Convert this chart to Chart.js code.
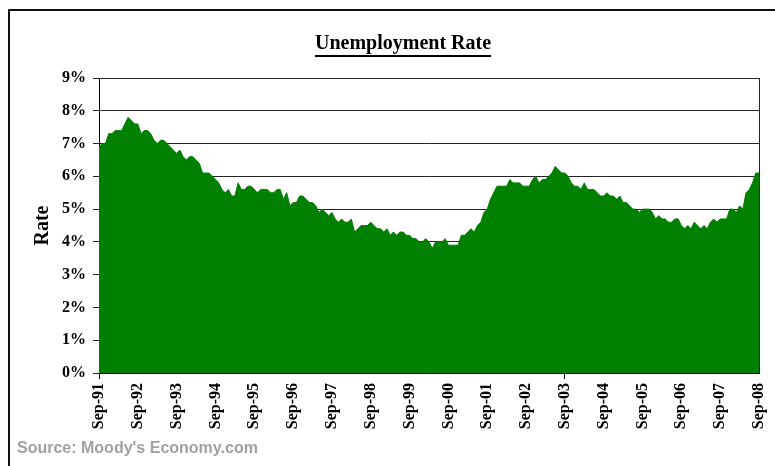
<!DOCTYPE html>
<html>
<head>
<meta charset="utf-8">
<title>Unemployment Rate</title>
<script src="https://cdn.jsdelivr.net/npm/chart.js@4.4.1/dist/chart.umd.min.js"></script>
<style>
    html, body { margin: 0; padding: 0; background: #fff; overflow: hidden; }
    #frame {
        position: absolute; left: 8px; top: 9px; width: 800px; height: 500px;
        border-top: 2px solid #111; border-left: 2px solid #111;
    }
    #chartTitle {
        position: absolute; left: 0; top: 32px; width: 806px; text-align: center;
        font: bold 20px 'Liberation Serif', 'Times New Roman', serif; line-height: 20px;
        text-decoration: underline; text-decoration-thickness: 2px; text-underline-offset: 6px;
    }
    #source {
        position: absolute; left: 17px; top: 440px;
        font: bold 16px 'Liberation Sans', Arial, sans-serif; line-height: 16px; color: #a0a0a0;
    }
    canvas { position: absolute; left: 0; top: 0; }
</style>
</head>
<body>
<div id="frame"></div>
<canvas id="rateChart" width="775" height="466"></canvas>
<div id="chartTitle">Unemployment Rate</div>
<div id="source">Source: Moody's Economy.com</div>

<script>
// Monthly series, Sep-91 through Sep-08
const years = ['91', '92', '93', '94', '95', '96', '97', '98', '99',
               '00', '01', '02', '03', '04', '05', '06', '07', '08'];
const months = ['Jan', 'Feb', 'Mar', 'Apr', 'May', 'Jun',
                'Jul', 'Aug', 'Sep', 'Oct', 'Nov', 'Dec'];

// Unemployment rate, percent (one row per calendar year)
const rate = [
    6.9, 7.0, 7.0, 7.3,                                         // 1991 Sep-Dec
    7.3, 7.4, 7.4, 7.4, 7.6, 7.8, 7.7, 7.6, 7.6, 7.3, 7.4, 7.4, // 1992
    7.3, 7.1, 7.0, 7.1, 7.1, 7.0, 6.9, 6.8, 6.7, 6.8, 6.6, 6.5, // 1993
    6.6, 6.6, 6.5, 6.4, 6.1, 6.1, 6.1, 6.0, 5.9, 5.8, 5.6, 5.5, // 1994
    5.6, 5.4, 5.4, 5.8, 5.6, 5.6, 5.7, 5.7, 5.6, 5.5, 5.6, 5.6, // 1995
    5.6, 5.5, 5.5, 5.6, 5.6, 5.3, 5.5, 5.1, 5.2, 5.2, 5.4, 5.4, // 1996
    5.3, 5.2, 5.2, 5.1, 4.9, 5.0, 4.9, 4.8, 4.9, 4.7, 4.6, 4.7, // 1997
    4.6, 4.6, 4.7, 4.3, 4.4, 4.5, 4.5, 4.5, 4.6, 4.5, 4.4, 4.4, // 1998
    4.3, 4.4, 4.2, 4.3, 4.2, 4.3, 4.3, 4.2, 4.2, 4.1, 4.1, 4.0, // 1999
    4.0, 4.1, 4.0, 3.8, 4.0, 4.0, 4.0, 4.1, 3.9, 3.9, 3.9, 3.9, // 2000
    4.2, 4.2, 4.3, 4.4, 4.3, 4.5, 4.6, 4.9, 5.0, 5.3, 5.5, 5.7, // 2001
    5.7, 5.7, 5.7, 5.9, 5.8, 5.8, 5.8, 5.7, 5.7, 5.7, 5.9, 6.0, // 2002
    5.8, 5.9, 5.9, 6.0, 6.1, 6.3, 6.2, 6.1, 6.1, 6.0, 5.8, 5.7, // 2003
    5.7, 5.6, 5.8, 5.6, 5.6, 5.6, 5.5, 5.4, 5.4, 5.5, 5.4, 5.4, // 2004
    5.3, 5.4, 5.2, 5.2, 5.1, 5.0, 5.0, 4.9, 5.0, 5.0, 5.0, 4.9, // 2005
    4.7, 4.8, 4.7, 4.7, 4.6, 4.6, 4.7, 4.7, 4.5, 4.4, 4.5, 4.4, // 2006
    4.6, 4.5, 4.4, 4.5, 4.4, 4.6, 4.7, 4.6, 4.7, 4.7, 4.7, 5.0, // 2007
    5.0, 4.9, 5.1, 5.0, 5.5, 5.6, 5.8, 6.1, 6.1                 // 2008 Jan-Sep
];

const yTicks = [0, 1, 2, 3, 4, 5, 6, 7, 8, 9];

// Build "Mon-YY" labels starting at Sep-91
const labels = [];
years.forEach((yy, yi) => {
    months.forEach((m, mi) => {
        if (yi === 0 && mi < 8) return;
        if (labels.length < rate.length) labels.push(m + '-' + yy);
    });
});

// Only September gets a label and a tick mark
const isSep = i => labels[i] && labels[i].startsWith('Sep');

const serif = 'Liberation Serif, Times New Roman, serif';

// Right-hand edge of the plot area
const plotFrame = {
    id: 'plotFrame',
    afterDatasetsDraw(chart) {
        const { ctx, chartArea } = chart;
        const x = Math.round(chartArea.right) + 0.5;
        ctx.save();
        ctx.strokeStyle = '#222';
        ctx.lineWidth = 1;
        ctx.beginPath();
        ctx.moveTo(x, chartArea.top);
        ctx.lineTo(x, chartArea.bottom);
        ctx.stroke();
        ctx.restore();
    }
};

document.addEventListener('DOMContentLoaded', function() {
    const ctx = document.getElementById('rateChart');

    new Chart(ctx, {
        type: 'line',
        data: {
            labels: labels,
            datasets: [{
                label: 'Rate',
                data: rate,
                fill: 'origin',
                backgroundColor: '#008000',
                borderColor: '#008000',
                borderWidth: 1,
                pointRadius: 0,
                tension: 0
            }]
        },
        options: {
            responsive: false,
            animation: false,
            layout: {
                padding: { left: 27, top: 78, right: 16, bottom: 0 }
            },
            plugins: {
                legend: { display: false },
                tooltip: { enabled: false }
            },
            scales: {
                x: {
                    offset: false,
                    border: { color: '#000', width: 1 },
                    grid: {
                        drawOnChartArea: false,
                        tickLength: 6,
                        color: c => isSep(c.index) ? '#000' : 'rgba(0,0,0,0)'
                    },
                    ticks: {
                        autoSkip: false,
                        minRotation: 90,
                        maxRotation: 90,
                        padding: 4,
                        color: '#000',
                        font: { family: serif, size: 16, weight: 'bold' },
                        callback: (v, i) => isSep(i) ? labels[i] : null
                    },
                    afterFit: s => {
                        s.height = 93;
                        s.paddingLeft = 0;
                        s.paddingRight = 0;
                    }
                },
                y: {
                    min: yTicks[0],
                    max: yTicks[yTicks.length - 1],
                    border: { color: '#000', width: 1 },
                    grid: { color: '#222', tickLength: 6 },
                    afterBuildTicks: s => { s.ticks = yTicks.map(v => ({ value: v })); },
                    ticks: {
                        padding: 7,
                        color: '#000',
                        font: { family: serif, size: 16, weight: 'bold' },
                        callback: v => v + '%'
                    },
                    title: {
                        display: true,
                        text: 'Rate',
                        color: '#000',
                        padding: { top: 4, bottom: 4 },
                        font: { family: serif, size: 20, weight: 'bold' }
                    },
                    afterFit: s => {
                        s.width = 72;
                        s.paddingTop = 0;
                        s.paddingBottom = 0;
                    }
                }
            }
        },
        plugins: [plotFrame]
    });
});
</script>
</body>
</html>
